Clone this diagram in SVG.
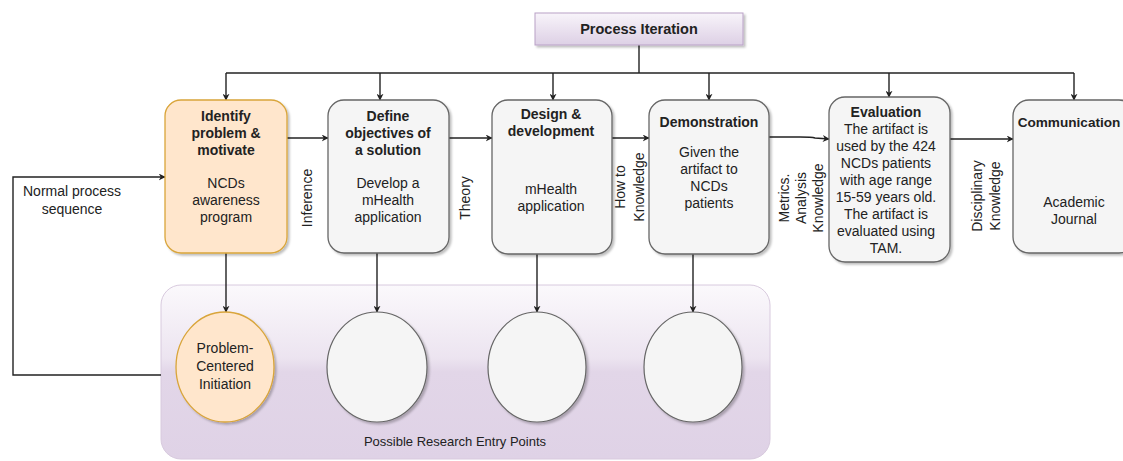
<svg xmlns="http://www.w3.org/2000/svg" width="1123" height="461" viewBox="0 0 1123 461">
<defs>
<linearGradient id="gPI" x1="0" y1="0" x2="0" y2="1">
<stop offset="0" stop-color="#f8f4fa"/>
<stop offset="1" stop-color="#ddd0e5"/>
</linearGradient>
<linearGradient id="gCont" x1="0" y1="0" x2="0" y2="1">
<stop offset="0" stop-color="#fbf9fc"/>
<stop offset="0.42" stop-color="#ece4f0"/>
<stop offset="0.5" stop-color="#e2d6e8"/>
<stop offset="1" stop-color="#dfd2e6"/>
</linearGradient>
<filter id="sh" x="-10%" y="-10%" width="130%" height="130%">
<feDropShadow dx="2" dy="2" stdDeviation="1.2" flood-color="#000" flood-opacity="0.25"/>
</filter>
<marker id="arr" viewBox="0 0 10 10" refX="9" refY="5" markerWidth="7" markerHeight="7" orient="auto" markerUnits="userSpaceOnUse">
<path d="M0,0 L10,5 L0,10 L3,5 Z" fill="#222"/>
</marker>
<style>
.t{font-family:"Liberation Sans",Arial,sans-serif;font-size:14px;fill:#222;text-anchor:middle}
.b{font-weight:bold}
.box{fill:#f5f5f5;stroke:#666;stroke-width:1.3;filter:url(#sh)}
.org{fill:#ffe6cc;stroke:#d9a53a;stroke-width:1.3}
.gc{fill:#f5f5f5;stroke:#666;stroke-width:1.2}
.c{fill:none;stroke:#222;stroke-width:1.4}
</style>
</defs>
<rect width="1123" height="461" fill="#fff"/>

<g id="container">
<rect x="161" y="285" width="609" height="174" rx="20" fill="url(#gCont)" stroke="#d8cade" stroke-width="1"/>
<text class="t" x="455" y="446" style="font-size:13px">Possible Research Entry Points</text>
</g>

<g id="connectors">
<polyline class="c" points="639,45 639,73"/>
<polyline class="c" points="226,73 1074,73"/>
<line class="c" x1="226" y1="73" x2="226" y2="100" marker-end="url(#arr)"/>
<line class="c" x1="380" y1="73" x2="380" y2="100" marker-end="url(#arr)"/>
<line class="c" x1="553" y1="73" x2="553" y2="100" marker-end="url(#arr)"/>
<line class="c" x1="709" y1="73" x2="709" y2="100" marker-end="url(#arr)"/>
<line class="c" x1="889" y1="73" x2="889" y2="97" marker-end="url(#arr)"/>
<line class="c" x1="1074" y1="73" x2="1074" y2="100" marker-end="url(#arr)"/>
<line class="c" x1="287" y1="138" x2="328" y2="138" marker-end="url(#arr)"/>
<line class="c" x1="449" y1="138" x2="492" y2="138" marker-end="url(#arr)"/>
<line class="c" x1="612" y1="138" x2="649" y2="138" marker-end="url(#arr)"/>
<path class="c" d="M769,137 L800,137 Q812,137 815,138 L829,139" marker-end="url(#arr)"/>
<line class="c" x1="950" y1="139" x2="1013" y2="139" marker-end="url(#arr)"/>
<polyline class="c" points="161,375 13,375 13,177 165,177" marker-end="url(#arr)"/>
<line class="c" x1="226" y1="253" x2="226" y2="312" marker-end="url(#arr)"/>
<line class="c" x1="377" y1="253" x2="377" y2="312" marker-end="url(#arr)"/>
<line class="c" x1="537" y1="254" x2="537" y2="312" marker-end="url(#arr)"/>
<line class="c" x1="693" y1="254" x2="693" y2="312" marker-end="url(#arr)"/>
</g>

<g id="edge-labels">
<text class="t" x="72" y="196">Normal process</text>
<text class="t" x="72" y="214">sequence</text>
<text class="t" transform="translate(312,198) rotate(-90)">Inference</text>
<text class="t" transform="translate(470,198) rotate(-90)">Theory</text>
<text class="t" transform="translate(625,187) rotate(-90)">How to</text>
<text class="t" transform="translate(644,187) rotate(-90)">Knowledge</text>
<text class="t" transform="translate(789,198) rotate(-90)">Metrics.</text>
<text class="t" transform="translate(806,198) rotate(-90)">Analysis</text>
<text class="t" transform="translate(823,198) rotate(-90)">Knowledge</text>
<text class="t" transform="translate(982,196) rotate(-90)">Disciplinary</text>
<text class="t" transform="translate(1000,196) rotate(-90)">Knowledge</text>
</g>

<g id="process-iteration">
<rect x="535" y="13" width="208" height="32" fill="url(#gPI)" stroke="#b9a1c6" stroke-width="1" filter="url(#sh)"/>
<text class="t b" x="639" y="34" style="font-size:14.5px">Process Iteration</text>
</g>

<g id="identify">
<rect x="165" y="100" width="122" height="153" rx="16" class="org" filter="url(#sh)"/>
<text class="t b" x="226" y="121">Identify</text>
<text class="t b" x="226" y="138">problem &amp;</text>
<text class="t b" x="226" y="155">motivate</text>
<text class="t" x="226" y="188">NCDs</text>
<text class="t" x="226" y="205">awareness</text>
<text class="t" x="226" y="222">program</text>
</g>

<g id="define">
<rect x="328" y="100" width="121" height="153" rx="16" class="box"/>
<text class="t b" x="388" y="121">Define</text>
<text class="t b" x="388" y="138">objectives of</text>
<text class="t b" x="388" y="155">a solution</text>
<text class="t" x="388" y="188">Develop a</text>
<text class="t" x="388" y="205">mHealth</text>
<text class="t" x="388" y="222">application</text>
</g>

<g id="design">
<rect x="492" y="100" width="120" height="154" rx="16" class="box"/>
<text class="t b" x="551" y="119">Design &amp;</text>
<text class="t b" x="551" y="136">development</text>
<text class="t" x="551" y="194">mHealth</text>
<text class="t" x="551" y="211">application</text>
</g>

<g id="demonstration">
<rect x="649" y="100" width="120" height="154" rx="16" class="box"/>
<text class="t b" x="709" y="127">Demonstration</text>
<text class="t" x="709" y="157">Given the</text>
<text class="t" x="709" y="174">artifact to</text>
<text class="t" x="709" y="191">NCDs</text>
<text class="t" x="709" y="208">patients</text>
</g>

<g id="evaluation">
<rect x="829" y="97" width="121" height="165" rx="16" class="box"/>
<text class="t b" x="886" y="117">Evaluation</text>
<text class="t" x="886" y="134">The artifact is</text>
<text class="t" x="886" y="151">used by the 424</text>
<text class="t" x="886" y="168">NCDs patients</text>
<text class="t" x="886" y="185">with age range</text>
<text class="t" x="886" y="202">15-59 years old.</text>
<text class="t" x="886" y="219">The artifact is</text>
<text class="t" x="886" y="236">evaluated using</text>
<text class="t" x="886" y="253">TAM.</text>
</g>

<g id="communication">
<rect x="1013" y="100" width="122" height="153" rx="16" class="box"/>
<text class="t b" x="1069" y="127" style="font-size:13.6px">Communication</text>
<text class="t" x="1074" y="207">Academic</text>
<text class="t" x="1074" y="224">Journal</text>
</g>

<g id="entry-1">
<ellipse cx="225" cy="367" rx="49" ry="55" class="org" filter="url(#sh)"/>
<text class="t" x="225" y="353">Problem-</text>
<text class="t" x="225" y="371">Centered</text>
<text class="t" x="225" y="389">Initiation</text>
</g>
<g id="entry-2"><ellipse cx="377" cy="367" rx="50" ry="55" class="gc" filter="url(#sh)"/></g>
<g id="entry-3"><ellipse cx="537" cy="367" rx="49" ry="55" class="gc" filter="url(#sh)"/></g>
<g id="entry-4"><ellipse cx="693" cy="367" rx="49" ry="55" class="gc" filter="url(#sh)"/></g>
</svg>
